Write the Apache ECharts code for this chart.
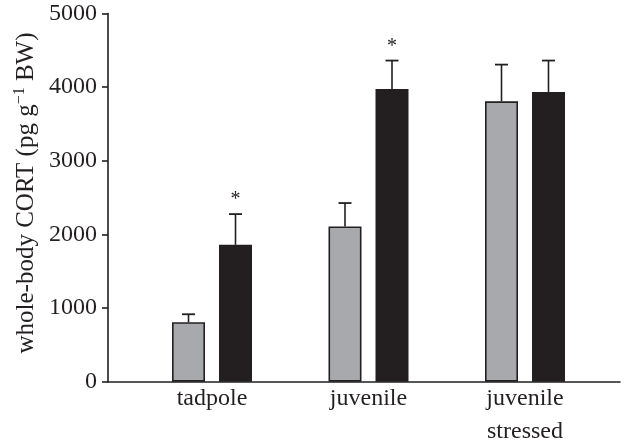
<!DOCTYPE html>
<html><head><meta charset="utf-8">
<script src="https://cdn.jsdelivr.net/npm/echarts@6/dist/echarts.min.js"></script>
<style>html,body{margin:0;padding:0;background:#fff}#c{width:640px;height:443px}</style>
</head><body><div id="c"></div>
<script>
var categories = ['tadpole', 'juvenile', 'juvenile\nstressed'];
var greyValues = [807, 2108, 3808];
var greyErrTop = [916, 2426, 4306];
var blackValues = [1859, 3976, 3935];
var blackErrTop = [2276, 4361, 4361];
var greyMarks = ['', '', ''];
var blackMarks = ['*', '*', ''];
var yTicks = [0, 1000, 2000, 3000, 4000, 5000];

var ink = '#231f20';
var font = 'Liberation Serif';
var barW = 33, gapPx = 14;
var offset = (barW + gapPx) / 2;

function errData(vals, tops, marks) {
  return vals.map(function (v, i) { return [i, v, tops[i], marks[i]]; });
}
function errRender(sign) {
  return function (params, api) {
    var base = api.coord([api.value(0), api.value(1)]);
    var top = api.coord([api.value(0), api.value(2)]);
    var x = base[0] + sign * offset;
    var children = [
      { type: 'line', shape: { x1: x, y1: base[1], x2: x, y2: top[1] }, style: { stroke: ink, lineWidth: 1.6 } },
      { type: 'line', shape: { x1: x - 6.5, y1: top[1], x2: x + 6.5, y2: top[1] }, style: { stroke: ink, lineWidth: 1.8 } }
    ];
    var mark = api.value(3);
    if (mark) {
      children.push({ type: 'text', x: x, y: top[1] - 14, style: { text: mark, fill: ink, fontFamily: font, fontSize: 20, align: 'center', verticalAlign: 'middle' } });
    }
    return { type: 'group', children: children };
  };
}

var chart = echarts.init(document.getElementById('c'), null, { renderer: 'canvas' });
chart.setOption({
  animation: false,
  backgroundColor: '#fff',
  grid: [
    { left: 108, right: 20, top: 13.5, bottom: 61.3, outerBoundsMode: 'none', containLabel: false },
    { left: 133.75, width: 469.5, top: 13.5, bottom: 61.3, outerBoundsMode: 'none', containLabel: false }
  ],
  xAxis: [
    { type: 'value', gridIndex: 0, min: 0, max: 1, axisLine: { show: true, onZero: false, lineStyle: { color: ink, width: 1.6 } }, axisTick: { show: false }, axisLabel: { show: false }, splitLine: { show: false } },
    { type: 'category', gridIndex: 1, data: categories, axisLine: { show: false }, axisTick: { show: false },
      axisLabel: { color: ink, fontFamily: font, fontSize: 24, margin: 1, lineHeight: 33, interval: 0 } }
  ],
  yAxis: [
    { type: 'value', gridIndex: 0, min: yTicks[0], max: yTicks[yTicks.length - 1], interval: 1000,
      axisLine: { show: true, lineStyle: { color: ink, width: 1.6 } },
      axisTick: { show: true, length: 6, lineStyle: { color: ink, width: 1.6 } },
      axisLabel: { color: ink, fontFamily: font, fontSize: 24, margin: 11, formatter: function (v) { return String(v); } },
      splitLine: { show: false } },
    { type: 'value', gridIndex: 1, min: yTicks[0], max: yTicks[yTicks.length - 1], show: false }
  ],
  graphic: [{
    type: 'text', x: 26, y: 193, rotation: Math.PI / 2,
    style: {
      text: '{n|whole-body CORT (pg g}{s|−1}{n| BW)}',
      align: 'center', verticalAlign: 'middle',
      rich: {
        n: { fontFamily: font, fontSize: 25, fill: ink, color: ink },
        s: { fontFamily: font, fontSize: 16, fill: ink, color: ink, verticalAlign: 'top', padding: [0, 0, 12, 0] }
      }
    }
  }],
  series: [
    { type: 'bar', xAxisIndex: 1, yAxisIndex: 1, data: greyValues, barWidth: barW, barGap: (gapPx / barW * 100) + '%',
      itemStyle: { color: '#a7a9ac', borderColor: ink, borderWidth: 1.6 }, z: 2 },
    { type: 'bar', xAxisIndex: 1, yAxisIndex: 1, data: blackValues, barWidth: barW,
      itemStyle: { color: ink, borderColor: ink, borderWidth: 1.6 }, z: 2 },
    { type: 'custom', xAxisIndex: 1, yAxisIndex: 1, data: errData(greyValues, greyErrTop, greyMarks), renderItem: errRender(-1), z: 3 },
    { type: 'custom', xAxisIndex: 1, yAxisIndex: 1, data: errData(blackValues, blackErrTop, blackMarks), renderItem: errRender(1), z: 3 }
  ]
});
</script></body></html>
